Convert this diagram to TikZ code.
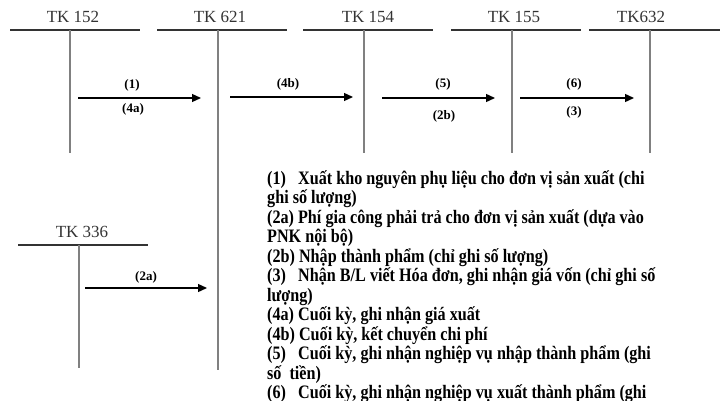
\documentclass[tikz,border=0pt]{standalone}
\usepackage{fontspec}
\setmainfont{Liberation Serif}
\newfontfamily\notefont[FakeStretch=0.85]{Liberation Serif}
\usetikzlibrary{arrows.meta}
\tikzset{
  hline/.style={draw=black!80, line width=1.2pt},
  vline/.style={draw=black!50, line width=1.8pt},
  acct/.style={anchor=base, inner sep=0pt, font=\fontsize{17}{19}\selectfont, text=black!80},
  flow/.style={draw=black, line width=1.3pt, -{Triangle[length=9pt,width=8pt]}},
  tag/.style={inner sep=0pt, font=\bfseries\fontsize{13}{15}\selectfont},
  note/.style={anchor=base west, inner sep=0pt, font=\notefont\bfseries\fontsize{19}{21}\selectfont}
}
\newcommand\lbl[1]{\makebox[31pt][l]{#1}}
\begin{document}
\begin{tikzpicture}[x=1pt,y=-1pt]
\useasboundingbox (0,0) rectangle (722,401);
\clip (0,0) rectangle (722,401);

% T-accounts: header line, title, vertical divider
\draw[hline] (10,30) -- (140,30);
\node[acct] (t152) at (73,23) {TK 152};
\draw[vline] (70,30) -- (70,153);

\draw[hline] (157,30) -- (287,30);
\node[acct] (t621) at (220,23) {TK 621};
\draw[vline] (218,30) -- (218,370);

\draw[hline] (303,30) -- (433,30);
\node[acct] (t154) at (368,23) {TK 154};
\draw[vline] (364,30) -- (364,153);

\draw[hline] (451,30) -- (581,30);
\node[acct] (t155) at (514,23) {TK 155};
\draw[vline] (512,30) -- (512,153);

\draw[hline] (589,30) -- (720,30);
\node[acct] (t632) at (641,23) {TK632};
\draw[vline] (650,30) -- (650,153);

\draw[hline] (18,245) -- (148,245);
\node[acct] (t336) at (82,237) {TK 336};
\draw[vline] (79,245) -- (79,368);

% flows between accounts
\coordinate (a1s) at (78,98);   \coordinate (a1e) at (201,98);
\coordinate (a2s) at (230,97);  \coordinate (a2e) at (353,97);
\coordinate (a3s) at (382,98);  \coordinate (a3e) at (495,98);
\coordinate (a4s) at (520,98);  \coordinate (a4e) at (634,98);
\coordinate (a5s) at (85,288);  \coordinate (a5e) at (207,288);

\draw[flow] (a1s) -- (a1e);
\draw[flow] (a2s) -- (a2e);
\draw[flow] (a3s) -- (a3e);
\draw[flow] (a4s) -- (a4e);
\draw[flow] (a5s) -- (a5e);

\node[tag] (f1)  at (132,85)  {(1)};
\node[tag] (f4a) at (133,109) {(4a)};
\node[tag] (f4b) at (288,84)  {(4b)};
\node[tag] (f5)  at (443,84)  {(5)};
\node[tag] (f2b) at (444,116) {(2b)};
\node[tag] (f6)  at (574,84)  {(6)};
\node[tag] (f3)  at (574,112) {(3)};
\node[tag] (f2a) at (146,277) {(2a)};

% legend
\node[note] (n1)  at (267,184.0) {\lbl{(1)}Xuất kho nguyên phụ liệu cho đơn vị sản xuất (chi};
\node[note] (n2)  at (267,203.5) {ghi số lượng)};
\node[note] (n3)  at (267,223.0) {(2a) Phí gia công phải trả cho đơn vị sản xuất (dựa vào};
\node[note] (n4)  at (267,242.5) {PNK nội bộ)};
\node[note] (n5)  at (267,262.0) {(2b) Nhập thành phẩm (chỉ ghi số lượng)};
\node[note] (n6)  at (267,281.5) {\lbl{(3)}Nhận B/L viết Hóa đơn, ghi nhận giá vốn (chỉ ghi số};
\node[note] (n7)  at (267,301.0) {lượng)};
\node[note] (n8)  at (267,320.5) {(4a) Cuối kỳ, ghi nhận giá xuất};
\node[note] (n9)  at (267,340.0) {(4b) Cuối kỳ, kết chuyển chi phí};
\node[note] (n10) at (267,359.5) {\lbl{(5)}Cuối kỳ, ghi nhận nghiệp vụ nhập thành phẩm (ghi};
\node[note] (n11) at (267,379.0) {số\ \ tiền)};
\node[note] (n12) at (267,398.5) {\lbl{(6)}Cuối kỳ, ghi nhận nghiệp vụ xuất thành phẩm (ghi};
\end{tikzpicture}
\end{document}
